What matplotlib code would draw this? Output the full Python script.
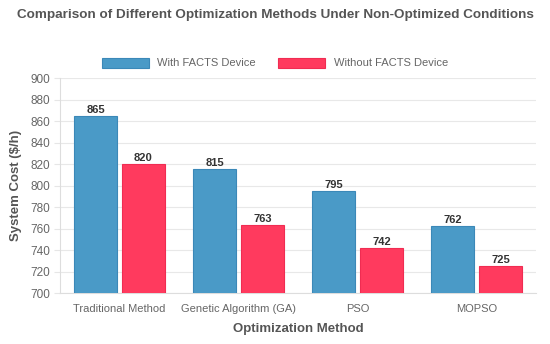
import numpy as np
import matplotlib
matplotlib.use("Agg")
import matplotlib.pyplot as plt

methods = ["Traditional Method", "Genetic Algorithm (GA)", "PSO", "MOPSO"]
with_facts = [865, 815, 795, 762]
without_facts = [820, 763, 742, 725]
yticks = [700, 720, 740, 760, 780, 800, 820, 840, 860, 880, 900]

plt.rcParams['font.family'] = ['Liberation Sans', 'DejaVu Sans']

fig = plt.figure(figsize=(5.5, 3.44), dpi=100)
ax = fig.add_axes([0.109, 0.148, 0.866, 0.625])

x = np.arange(len(methods))
w = 0.36
c_blue, e_blue = '#4a9ac7', '#3b88b8'
c_red, e_red = '#ff3a5e', '#f02c52'

b1 = ax.bar(x - 0.2, with_facts, w, color=c_blue, edgecolor=e_blue, linewidth=0.8,
            label='With FACTS Device', zorder=3)
b2 = ax.bar(x + 0.2, without_facts, w, color=c_red, edgecolor=e_red, linewidth=0.8,
            label='Without FACTS Device', zorder=3)

for bars, vals in [(b1, with_facts), (b2, without_facts)]:
    for b, v in zip(bars, vals):
        ax.text(b.get_x() + b.get_width() / 2, v + 1, str(v), ha='center', va='bottom',
                fontsize=8, fontweight='bold', color='#333333')

ax.set_xlim(-0.5, 3.5)
ax.set_ylim(700, 900)
ax.set_yticks(yticks)
ax.set_xticks(x)
ax.set_xticklabels(methods)
ax.tick_params(axis='both', labelsize=8, colors='#666666', length=4)
ax.tick_params(axis='y', labelsize=8.5)
ax.tick_params(axis='x', length=0, pad=8)
ax.tick_params(axis='y', color='#e6e6e6', pad=3)
ax.grid(axis='y', color='#e8e8e8', linewidth=0.8, zorder=0)
for s in ['top', 'right']:
    ax.spines[s].set_visible(False)
for s in ['left', 'bottom']:
    ax.spines[s].set_color('#dddddd')

ax.set_xlabel('Optimization Method', fontsize=9.5, fontweight='bold', color='#555555', labelpad=6)
ax.set_ylabel('System Cost ($/h)', fontsize=9.5, fontweight='bold', color='#555555', labelpad=6)

fig.legend(loc='center', bbox_to_anchor=(0.5, 0.817), ncol=2, frameon=False, fontsize=8,
           handlelength=4.2, handleheight=1.0, columnspacing=2.0, labelcolor='#666666')
fig.text(0.5, 0.955, 'Comparison of Different Optimization Methods Under Non-Optimized Conditions',
         ha='center', va='center', fontsize=9.7, fontweight='bold', color='#555555')

fig.savefig('out.png', dpi=100)
